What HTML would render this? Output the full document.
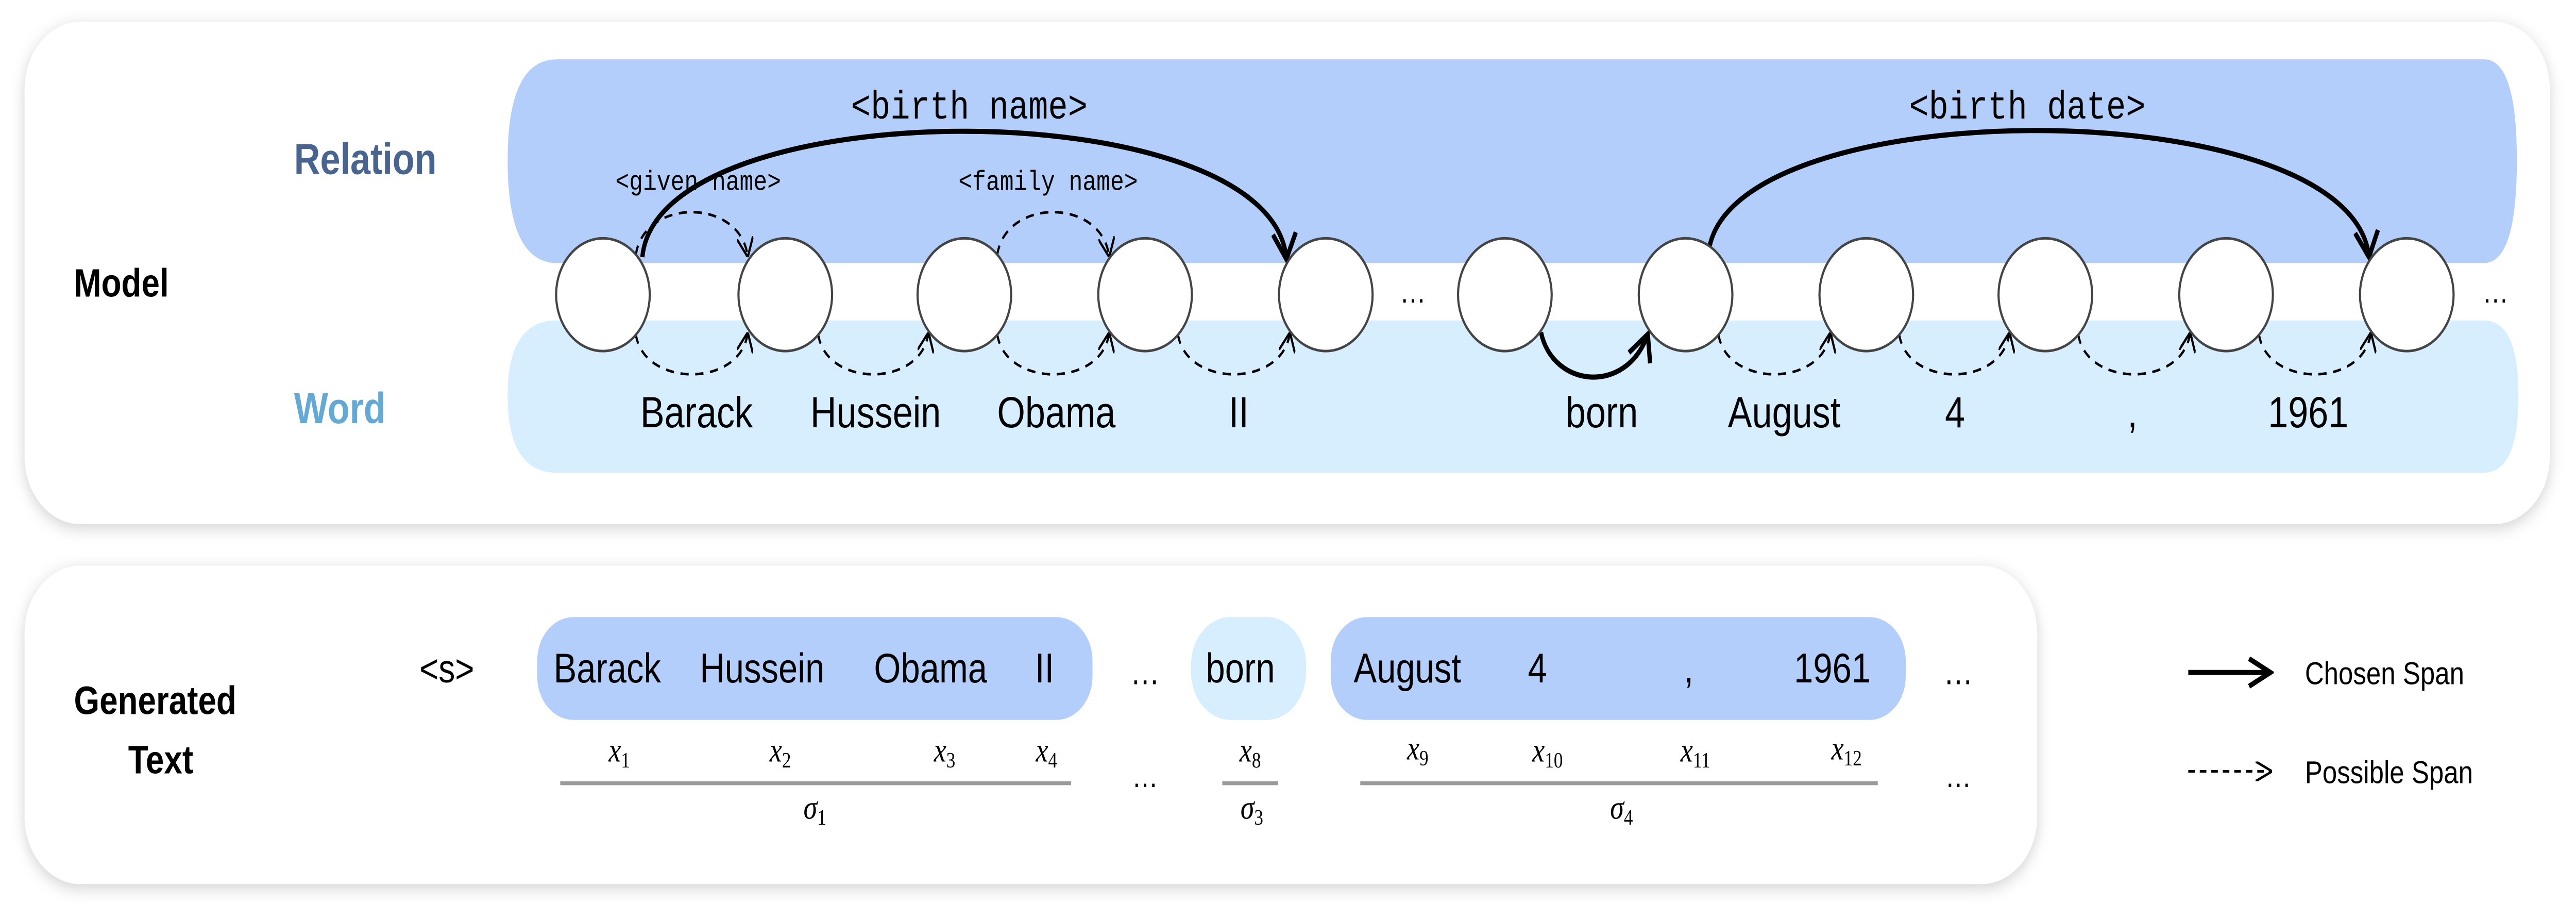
<!DOCTYPE html>
<html><head><meta charset="utf-8"><style>
html,body{margin:0;padding:0;background:#fff;width:100%;height:100%;overflow:hidden;}
svg{display:block;position:absolute;left:0;top:0;width:100vw;height:100vh;}
.sans{font-family:"Liberation Sans",Arial,sans-serif;}
.mono{font-family:"Liberation Mono",monospace;}
.ser{font-family:"Liberation Serif",serif;font-style:italic;}
</style></head><body>
<svg viewBox="0 0 1568 464.65" preserveAspectRatio="none" xmlns="http://www.w3.org/2000/svg">
<defs>
<filter id="sh" x="-5%" y="-20%" width="110%" height="140%">
<feDropShadow dx="0" dy="2" stdDeviation="4" flood-color="#000" flood-opacity="0.18"/>
</filter>
<marker id="ah" markerWidth="10" markerHeight="10" refX="9" refY="5" orient="auto" markerUnits="userSpaceOnUse" viewBox="0 0 10 10">
<path d="M0,0 L10,5 L0,10" fill="none" stroke="#000" stroke-width="1.3"/>
</marker>
<marker id="ahb" markerWidth="16" markerHeight="16" refX="14" refY="8" orient="auto" markerUnits="userSpaceOnUse" viewBox="0 0 16 16">
<path d="M1,1 L14,8 L1,15" fill="none" stroke="#000" stroke-width="2.6"/>
</marker>
</defs>
<rect x="0" y="0" width="1568" height="465" fill="#fff"/>
<rect x="15" y="11" width="1537" height="254" rx="34" fill="#fff" filter="url(#sh)"/>
<path d="M339,30 H1512 Q1532,30 1532,81 Q1532,133 1512,133 H339 Q309,133 309,81 Q309,30 339,30 Z" fill="#b3cefb"/>
<path d="M339,162 H1512 Q1533,162 1533,200 Q1533,239 1512,239 H339 Q309,239 309,200 Q309,162 339,162 Z" fill="#d6eeff"/>
<rect x="300" y="133" width="1240" height="29" fill="#fff"/>
<text class="sans" x="45" y="150" font-size="20" font-weight="bold">Model</text>
<text class="sans" x="179" y="88" font-size="22" font-weight="bold" fill="#4a6490">Relation</text>
<text class="sans" x="179" y="214" font-size="22" font-weight="bold" fill="#63a9d4">Word</text>
<text class="mono" x="590" y="60" font-size="20" text-anchor="middle">&lt;birth name&gt;</text>
<text class="mono" x="1234" y="60" font-size="20" text-anchor="middle">&lt;birth date&gt;</text>
<text class="mono" x="425" y="96" font-size="14" text-anchor="middle">&lt;given name&gt;</text>
<text class="mono" x="638" y="96" font-size="14" text-anchor="middle">&lt;family name&gt;</text>
<path d="M391,130 C400,45 775,45 783,131" fill="none" stroke="#000" stroke-width="2.6" marker-end="url(#ahb)"/>
<path d="M1040,128 C1050,45 1432,45 1442,130" fill="none" stroke="#000" stroke-width="2.6" marker-end="url(#ahb)"/>
<g fill="none" stroke="#000" stroke-width="1.3" stroke-dasharray="5,4">
<path d="M387,129 C392,100 450,100 455,129" marker-end="url(#ah)"/>
<path d="M607,129 C612,100 670,100 675,129" marker-end="url(#ah)"/>
<path d="M387,169 C392,196 450,196 455,169" marker-end="url(#ah)"/>
<path d="M498,169 C503,196 560,196 565,169" marker-end="url(#ah)"/>
<path d="M607,169 C612,196 670,196 675,169" marker-end="url(#ah)"/>
<path d="M717,169 C722,196 780,196 785,169" marker-end="url(#ah)"/>
<path d="M1046,169 C1051,196 1109,196 1114,169" marker-end="url(#ah)"/>
<path d="M1156,169 C1161,196 1218,196 1223,169" marker-end="url(#ah)"/>
<path d="M1265,169 C1270,196 1328,196 1333,169" marker-end="url(#ah)"/>
<path d="M1375,169 C1380,196 1438,196 1443,169" marker-end="url(#ah)"/>
</g>
<path d="M938,168 C945,196 990,200 1003,169" fill="none" stroke="#000" stroke-width="2.6" marker-end="url(#ahb)"/>
<g fill="#fff" stroke="#444" stroke-width="1.3">
<circle cx="367" cy="149" r="28.5"/><circle cx="478" cy="149" r="28.5"/>
<circle cx="587" cy="149" r="28.5"/><circle cx="697" cy="149" r="28.5"/>
<circle cx="807" cy="149" r="28.5"/><circle cx="916" cy="149" r="28.5"/>
<circle cx="1026" cy="149" r="28.5"/><circle cx="1136" cy="149" r="28.5"/>
<circle cx="1245" cy="149" r="28.5"/><circle cx="1355" cy="149" r="28.5"/>
<circle cx="1465" cy="149" r="28.5"/>
</g>
<text class="sans" x="860" y="153" font-size="16" text-anchor="middle">…</text>
<text class="sans" x="1519" y="153" font-size="16" text-anchor="middle">…</text>
<g class="sans" font-size="22" text-anchor="middle">
<text x="424" y="216">Barack</text><text x="533" y="216">Hussein</text>
<text x="643" y="216">Obama</text><text x="754" y="216">II</text>
<text x="975" y="216">born</text><text x="1086" y="216">August</text>
<text x="1190" y="216">4</text><text x="1298" y="216">,</text>
<text x="1405" y="216">1961</text>
</g>
<rect x="15" y="286" width="1225" height="161" rx="34" fill="#fff" filter="url(#sh)"/>
<text class="sans" x="45" y="361" font-size="20" font-weight="bold">Generated</text>
<text class="sans" x="78" y="391" font-size="20" font-weight="bold">Text</text>
<text class="sans" x="272" y="345" font-size="20" text-anchor="middle">&lt;s&gt;</text>
<rect x="327" y="312" width="338" height="52" rx="22" fill="#b3cefb"/>
<rect x="725" y="312" width="70" height="52" rx="24" fill="#d6eeff"/>
<rect x="810" y="312" width="350" height="52" rx="22" fill="#b3cefb"/>
<g class="sans" font-size="21">
<text x="337" y="345">Barack</text><text x="426" y="345">Hussein</text>
<text x="532" y="345">Obama</text><text x="630" y="345">II</text>
<text x="734" y="345">born</text><text x="824" y="345">August</text>
<text x="930" y="345">4</text><text x="1025" y="345">,</text>
<text x="1092" y="345">1961</text>
</g>
<text class="sans" x="697" y="346" font-size="18" text-anchor="middle">…</text>
<text class="sans" x="1192" y="346" font-size="18" text-anchor="middle">…</text>
<g class="ser" font-size="17" text-anchor="middle">
<text x="377" y="385">x<tspan font-size="11" font-style="normal" dy="3">1</tspan></text>
<text x="475" y="385">x<tspan font-size="11" font-style="normal" dy="3">2</tspan></text>
<text x="575" y="385">x<tspan font-size="11" font-style="normal" dy="3">3</tspan></text>
<text x="637" y="385">x<tspan font-size="11" font-style="normal" dy="3">4</tspan></text>
<text x="761" y="385">x<tspan font-size="11" font-style="normal" dy="3">8</tspan></text>
<text x="863" y="384">x<tspan font-size="11" font-style="normal" dy="3">9</tspan></text>
<text x="942" y="385">x<tspan font-size="11" font-style="normal" dy="3">10</tspan></text>
<text x="1032" y="385">x<tspan font-size="11" font-style="normal" dy="3">11</tspan></text>
<text x="1124" y="384">x<tspan font-size="11" font-style="normal" dy="3">12</tspan></text>
<text x="496" y="414">σ<tspan font-size="11" font-style="normal" dy="3">1</tspan></text>
<text x="762" y="414">σ<tspan font-size="11" font-style="normal" dy="3">3</tspan></text>
<text x="987" y="414">σ<tspan font-size="11" font-style="normal" dy="3">4</tspan></text>
</g>
<g stroke="#9a9a9a" stroke-width="2">
<line x1="341" y1="396" x2="652" y2="396"/><line x1="744" y1="396" x2="778" y2="396"/>
<line x1="828" y1="396" x2="1143" y2="396"/>
</g>
<text class="sans" x="697" y="398" font-size="16" text-anchor="middle">…</text>
<text class="sans" x="1192" y="398" font-size="16" text-anchor="middle">…</text>
<line x1="1332" y1="340" x2="1382" y2="340" stroke="#000" stroke-width="2.6" marker-end="url(#ahb)"/>
<text class="sans" x="1403" y="346" font-size="16">Chosen Span</text>
<line x1="1332" y1="390" x2="1382" y2="390" stroke="#000" stroke-width="1.3" stroke-dasharray="4,3" marker-end="url(#ah)"/>
<text class="sans" x="1403" y="396" font-size="16">Possible Span</text>
</svg>
</body></html>
